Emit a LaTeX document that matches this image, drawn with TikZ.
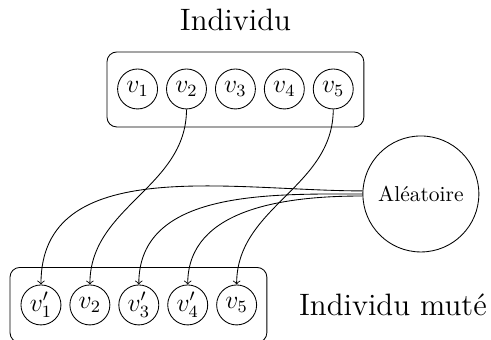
\documentclass[tikz,border=0pt]{standalone}
\usepackage{amsmath}
\begin{document}
\begin{tikzpicture}
    \tikzstyle{gene}=[circle,draw,minimum size=18.6pt,inner sep=0pt,font=\large]
    \tikzstyle{indiv}=[rectangle,draw,rounded corners=4.5pt,minimum width=4.2cm,minimum height=1.226cm]
    \useasboundingbox (0,0) rectangle (8.03,-5.56);
    \node[indiv] (I0) at (3.85, -1.463) {};
    \node[indiv] (I1) at (2.264, -4.987) {};
    \node[font=\Large] (T0) at (3.85, -0.327) {Individu};
    \node[font=\Large] (T1) at (6.425, -4.987) {Individu mut\'e};
    \node[gene] (A1) at (2.25, -1.455) {$v_1$};
    \node[gene] (A2) at (3.05, -1.455) {$v_2$};
    \node[gene] (A3) at (3.85, -1.455) {$v_3$};
    \node[gene] (A4) at (4.65, -1.455) {$v_4$};
    \node[gene] (A5) at (5.45, -1.455) {$v_5$};
    \node[gene] (B1) at (0.67, -4.987) {$v_1'$};
    \node[gene] (B2) at (1.47, -4.987) {$v_2$};
    \node[gene] (B3) at (2.27, -4.987) {$v_3'$};
    \node[gene] (B4) at (3.07, -4.987) {$v_4'$};
    \node[gene] (B5) at (3.87, -4.987) {$v_5$};
    \node[circle,draw,minimum size=1.897cm,inner sep=0pt] (R) at (6.883, -3.172) {Al\'eatoire};

    \tikzstyle{link}=[->]
    \draw[link] (A2.south) to[out=-90,in=90] (B2.north);
    \draw[link] (A5.south) to[out=-90,in=90] (B5.north);
    \draw[link] (R.177.5) to[out=180,in=90] (B1.north);
    \draw[link] (R.180) to[out=180,in=90] (B3.north);
    \draw[link] (R.182.5) to[out=180,in=90] (B4.north);
\end{tikzpicture}
\end{document}
